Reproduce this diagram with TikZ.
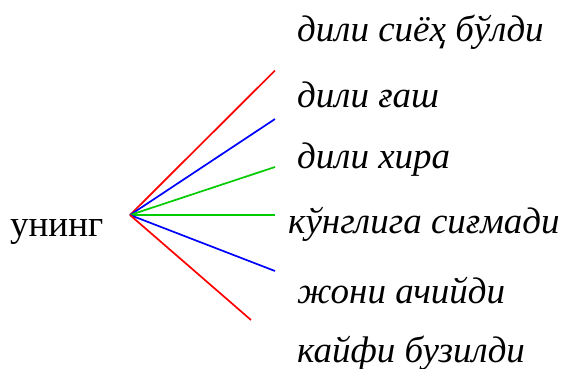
\documentclass[tikz,border=0pt]{standalone}
\usepackage{fontspec}
\setmainfont{Liberation Serif}
\usepackage{xcolor}
\definecolor{lgreen}{RGB}{0,204,0}

\begin{document}
\begin{tikzpicture}[x=1pt,y=-1pt,
  phrase/.style={anchor=base west,inner sep=0pt,font=\fontsize{37}{40}\selectfont\itshape},
  ray/.style={line width=1.7pt}]
\useasboundingbox (0,0) rectangle (567,368);
\node[anchor=base west,inner sep=0pt,font=\fontsize{37}{40}\selectfont] (word) at (10,236) {унинг};
\coordinate (hub) at (130,215);
\coordinate (e1) at (275,70.5);
\coordinate (e2) at (275,119);
\coordinate (e3) at (275,167);
\coordinate (e4) at (275,215);
\coordinate (e5) at (275,271);
\coordinate (e6) at (251,320);
\node[phrase] (p1) at (297,41) {дили сиёҳ бўлди};
\node[phrase] (p2) at (297,107) {дили ғаш};
\node[phrase] (p3) at (297,168) {дили хира};
\node[phrase] (p4) at (288,233) {кўнглига сиғмади};
\node[phrase] (p5) at (297,303) {жони ачийди};
\node[phrase] (p6) at (297,362) {кайфи бузилди};
\draw[ray,red] (hub) -- (e1);
\draw[ray,blue] (hub) -- (e2);
\draw[ray,lgreen] (hub) -- (e3);
\draw[ray,lgreen] (hub) -- (e4);
\draw[ray,blue] (hub) -- (e5);
\draw[ray,red] (hub) -- (e6);
\end{tikzpicture}
\end{document}
